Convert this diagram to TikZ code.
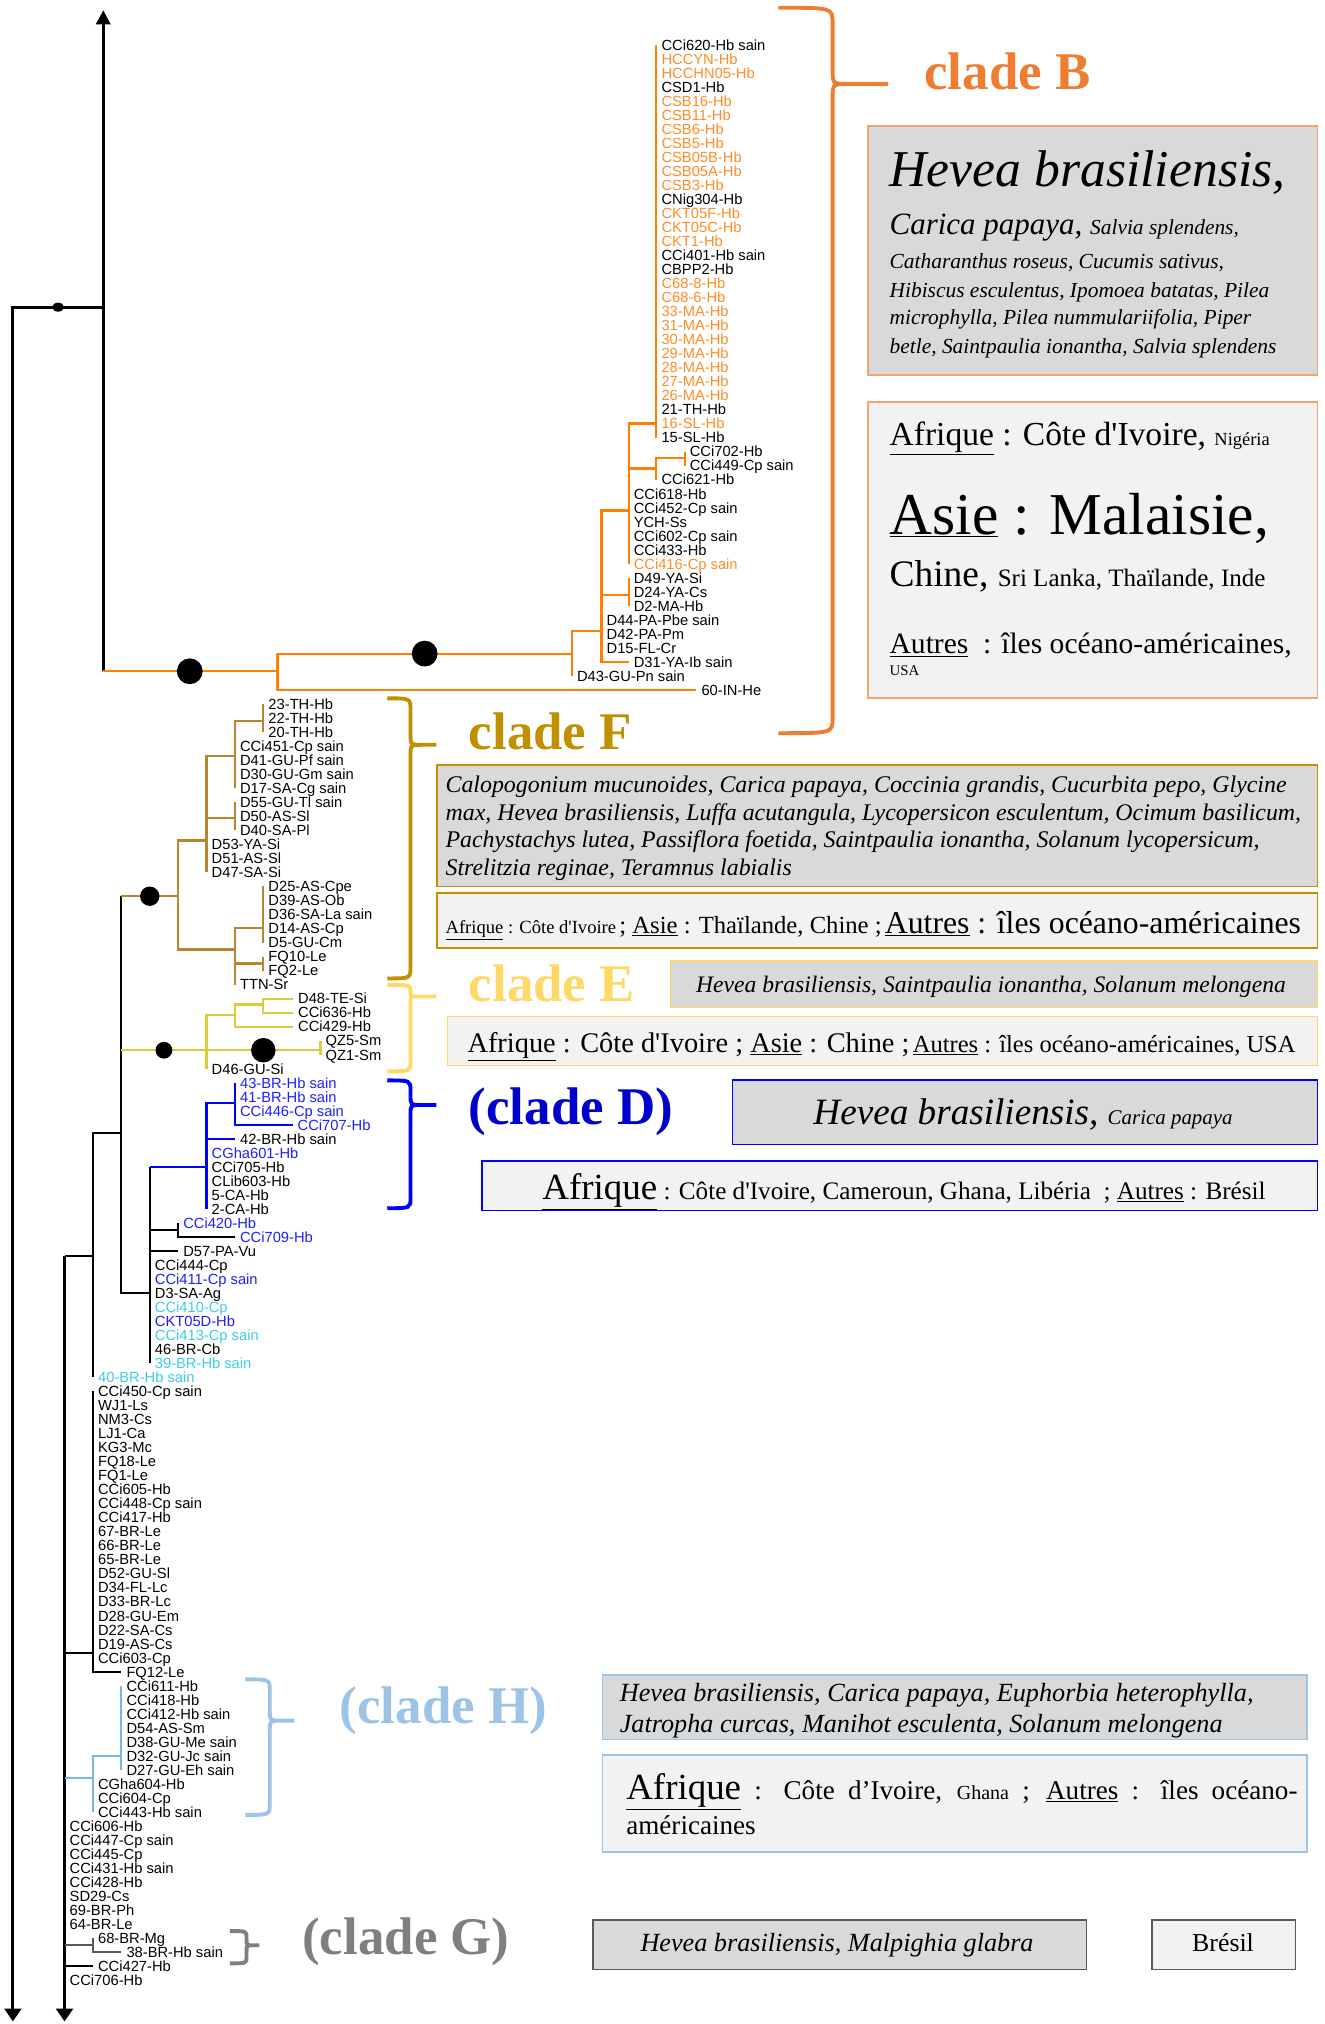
\documentclass[tikz,border=0pt]{standalone}
\usepackage{fontspec}
\setmainfont{Liberation Serif}
\setsansfont{Liberation Sans}
\usetikzlibrary{arrows.meta}
\definecolor{cladeB}{RGB}{237,125,49}
\definecolor{orgline}{RGB}{255,128,0}
\definecolor{orgtxt}{RGB}{255,140,40}
\definecolor{orgborder}{RGB}{244,164,110}
\definecolor{brnline}{RGB}{184,134,46}
\definecolor{cladeF}{RGB}{191,144,0}
\definecolor{yelline}{RGB}{220,204,58}
\definecolor{cladeE}{RGB}{255,217,102}
\definecolor{bluline}{RGB}{0,0,255}
\definecolor{blutxt}{RGB}{30,30,255}
\definecolor{cyantxt}{RGB}{60,205,235}
\definecolor{cladeD}{RGB}{0,0,204}
\definecolor{hline}{RGB}{120,180,240}
\definecolor{cladeH}{RGB}{157,195,230}
\definecolor{gline}{RGB}{90,90,80}
\definecolor{cladeG}{RGB}{127,127,127}
\definecolor{spfill}{RGB}{217,217,217}
\definecolor{geofill}{RGB}{242,242,242}

\begin{document}
\begin{tikzpicture}[x=1pt,y=-1pt,
    leaf/.style={anchor=west,inner xsep=3.8pt,inner ysep=0pt,text height=8.2pt,text depth=0pt,font=\sffamily\fontsize{11.4}{11}\selectfont},
    br/.style={line width=1.7pt},
    trunk/.style={line width=2.4pt},
    brace/.style={line width=3pt},
    clade/.style={anchor=base west,inner sep=0pt,font=\bfseries\fontsize{41}{41}\selectfont},
    spbox/.style={draw,fill=spfill,line width=1.2pt,anchor=north west,inner sep=0pt},
    geobox/.style={draw,fill=geofill,line width=1.2pt,anchor=north west,inner sep=0pt},
    txt/.style={anchor=base west,inner sep=0pt}]
\useasboundingbox (0,0) rectangle (1026,1568);

% tree, one row per leaf
\begin{scope}[y=-10.865pt,shift={(0pt,-34.8pt)}]
  % leaves of clade B
  \foreach \t/\cl [count=\i from 0] in {CCi620-Hb sain/black,HCCYN-Hb/orgtxt,HCCHN05-Hb/orgtxt,CSD1-Hb/black,CSB16-Hb/orgtxt,CSB11-Hb/orgtxt,CSB6-Hb/orgtxt,CSB5-Hb/orgtxt,CSB05B-Hb/orgtxt,CSB05A-Hb/orgtxt,CSB3-Hb/orgtxt,CNig304-Hb/black,CKT05F-Hb/orgtxt,CKT05C-Hb/orgtxt,CKT1-Hb/orgtxt,CCi401-Hb sain/black,CBPP2-Hb/black,C68-8-Hb/orgtxt,C68-6-Hb/orgtxt,33-MA-Hb/orgtxt,31-MA-Hb/orgtxt,30-MA-Hb/orgtxt,29-MA-Hb/orgtxt,28-MA-Hb/orgtxt,27-MA-Hb/orgtxt,26-MA-Hb/orgtxt,21-TH-Hb/black,16-SL-Hb/orgtxt,15-SL-Hb/black}
    \node[leaf,text=\cl] (l\i) at (508.5,\i) {\t};
  \foreach \t [count=\i from 29] in {CCi702-Hb,CCi449-Cp sain}
    \node[leaf] (l\i) at (530.4,\i) {\t};
  \node[leaf] (l31) at (508.5,31) {CCi621-Hb};
  \foreach \t/\cl [count=\i from 32] in {CCi618-Hb/black,CCi452-Cp sain/black,YCH-Ss/black,CCi602-Cp sain/black,CCi433-Hb/black,CCi416-Cp sain/orgtxt,D49-YA-Si/black,D24-YA-Cs/black,D2-MA-Hb/black}
    \node[leaf,text=\cl] (l\i) at (487,\i) {\t};
  \foreach \t [count=\i from 41] in {D44-PA-Pbe sain,D42-PA-Pm,D15-FL-Cr}
    \node[leaf] (l\i) at (466,\i) {\t};
  \node[leaf] (l44) at (487,44) {D31-YA-Ib sain};
  \node[leaf] (l45) at (443,45) {D43-GU-Pn sain};
  \node[leaf] (l46) at (539.5,46) {60-IN-He};

  % leaves of clade F
  \foreach \t [count=\i from 47] in {23-TH-Hb,22-TH-Hb,20-TH-Hb}
    \node[leaf] (l\i) at (204,\i) {\t};
  \foreach \t [count=\i from 50] in {CCi451-Cp sain,D41-GU-Pf sain,D30-GU-Gm sain,D17-SA-Cg sain,D55-GU-Tl sain,D50-AS-Sl,D40-SA-Pl}
    \node[leaf] (l\i) at (182,\i) {\t};
  \foreach \t [count=\i from 57] in {D53-YA-Si,D51-AS-Sl,D47-SA-Si}
    \node[leaf] (l\i) at (160,\i) {\t};
  \foreach \t [count=\i from 60] in {D25-AS-Cpe,D39-AS-Ob,D36-SA-La sain,D14-AS-Cp,D5-GU-Cm,FQ10-Le,FQ2-Le}
    \node[leaf] (l\i) at (204,\i) {\t};
  \node[leaf] (l67) at (182,67) {TTN-Sr};

  % leaves of clade E
  \foreach \t [count=\i from 68] in {D48-TE-Si,CCi636-Hb,CCi429-Hb}
    \node[leaf] (l\i) at (227,\i) {\t};
  \foreach \t [count=\i from 71] in {QZ5-Sm,QZ1-Sm}
    \node[leaf] (l\i) at (248.3,\i) {\t};
  \node[leaf] (l73) at (160,73) {D46-GU-Si};

  % leaves of clade D
  \foreach \t [count=\i from 74] in {43-BR-Hb sain,41-BR-Hb sain,CCi446-Cp sain}
    \node[leaf,text=blutxt] (l\i) at (182,\i) {\t};
  \node[leaf,text=blutxt] (l77) at (226.6,77) {CCi707-Hb};
  \node[leaf] (l78) at (182,78) {42-BR-Hb sain};
  \foreach \t/\cl [count=\i from 79] in {CGha601-Hb/blutxt,CCi705-Hb/black,CLib603-Hb/black,5-CA-Hb/black,2-CA-Hb/black}
    \node[leaf,text=\cl] (l\i) at (160,\i) {\t};

  % the rest
  \node[leaf,text=blutxt] (l84) at (138,84) {CCi420-Hb};
  \node[leaf,text=blutxt] (l85) at (182,85) {CCi709-Hb};
  \node[leaf] (l86) at (138,86) {D57-PA-Vu};
  \foreach \t/\cl [count=\i from 87] in {CCi444-Cp/black,CCi411-Cp sain/blutxt,D3-SA-Ag/black,CCi410-Cp/cyantxt,CKT05D-Hb/blutxt,CCi413-Cp sain/cyantxt,46-BR-Cb/black,39-BR-Hb sain/cyantxt}
    \node[leaf,text=\cl] (l\i) at (116,\i) {\t};
  \node[leaf,text=cyantxt] (l95) at (72,95) {40-BR-Hb sain};
  \foreach \t [count=\i from 96] in {CCi450-Cp sain,WJ1-Ls,NM3-Cs,LJ1-Ca,KG3-Mc,FQ18-Le,FQ1-Le,CCi605-Hb,CCi448-Cp sain,CCi417-Hb,67-BR-Le,66-BR-Le,65-BR-Le,D52-GU-Sl,D34-FL-Lc,D33-BR-Lc,D28-GU-Em,D22-SA-Cs,D19-AS-Cs,CCi603-Cp}
    \node[leaf] (l\i) at (72,\i) {\t};
  \node[leaf] (l116) at (94,116) {FQ12-Le};
  \foreach \t [count=\i from 117] in {CCi611-Hb,CCi418-Hb,CCi412-Hb sain,D54-AS-Sm,D38-GU-Me sain,D32-GU-Jc sain,D27-GU-Eh sain}
    \node[leaf] (l\i) at (94,\i) {\t};
  \foreach \t [count=\i from 124] in {CGha604-Hb,CCi604-Cp,CCi443-Hb sain}
    \node[leaf] (l\i) at (72,\i) {\t};
  \foreach \t [count=\i from 127] in {CCi606-Hb,CCi447-Cp sain,CCi445-Cp,CCi431-Hb sain,CCi428-Hb,SD29-Cs,69-BR-Ph,64-BR-Le}
    \node[leaf] (l\i) at (50,\i) {\t};
  \node[leaf] (l135) at (72,135) {68-BR-Mg};
  \node[leaf] (l136) at (94,136) {38-BR-Hb sain};
  \node[leaf] (l137) at (72,137) {CCi427-Hb};
  \node[leaf] (l138) at (50,138) {CCi706-Hb};

  % inner nodes
  \coordinate (k0) at (10,18.7);
  \coordinate (k1) at (80,18.7);
  \coordinate (kTop) at (80,-2.47);
  \coordinate (kEnd0) at (10,140.93);
  \coordinate (k2) at (50,86.33);
  \coordinate (kEnd1) at (50,140.93);
  \coordinate (k3) at (72,86.33);
  \coordinate (k4) at (94,77.57);
  \coordinate (k5) at (116,89);
  \coordinate (k6) at (138,84.47);
  \coordinate (k7) at (72,114.66);
  \coordinate (oRoot) at (80,44.66);
  \coordinate (o1) at (215,44.66);
  \coordinate (o2) at (443,43.4);
  \coordinate (o3) at (466,41.77);
  \coordinate (o4) at (487,33.19);
  \coordinate (o5) at (508.5,27);
  \coordinate (o6) at (508.5,30.2);
  \coordinate (o7) at (530.4,29.46);
  \coordinate (o8) at (487,39.2);
  \coordinate (f1) at (138,60.7);
  \coordinate (f2) at (160,56.73);
  \coordinate (f3) at (182,50.72);
  \coordinate (f4) at (204,48.23);
  \coordinate (f5) at (182,55.12);
  \coordinate (f6) at (182,64.5);
  \coordinate (f7) at (204,62.96);
  \coordinate (f8) at (204,65.5);
  \coordinate (e1) at (160,71.68);
  \coordinate (e2) at (182,69.14);
  \coordinate (e3) at (204,68.42);
  \coordinate (e4) at (248.3,71.68);
  \coordinate (d1) at (160,80);
  \coordinate (d2) at (182,75.43);
  \coordinate (h1) at (72,123.6);
  \coordinate (h2) at (94,122);
  \coordinate (g1) at (72,135.5);

  % black backbone
  \draw[trunk,-{Triangle[length=11pt,width=11pt]}] (oRoot) -- (kTop);
  \draw[trunk,-{Triangle[length=10pt,width=13pt]}] (k1) -- (k0) -- (kEnd0);
  \draw[trunk,-{Triangle[length=10pt,width=13pt]}] (k2) -- (kEnd1);
  \fill (45,18.7) ellipse (4.5pt and 3.5pt);
  \draw[br] (k2) -- (k3) |- (k4) (k3) |- (l95.west)
    (k4) |- (k5) (k4) -- (k4 |- f1)
    (k5) |- (k6) (k5) |- (l86.west) (k5) |- (l94.west) (k5) -- (k5 |- d1)
    (k6) |- (l84.west) (k6) |- (l85.west)
    (k2 |- k7) -- (k7) |- (l96.west) (k7) |- (l116.west)
    (k2 |- l137.west) -- (l137.west);

  % clade B
  \draw[br,orgline] (oRoot) -- (o1) |- (o2) (o1) |- (l46.west)
    (o2) |- (o3) (o2) |- (l45.west)
    (o3) |- (o4) (o3) |- (o8) (o3) |- (l41.west) (o3) |- (l44.west)
    (o4) |- (o5) (o4) |- (o6) (o4) |- (l32.west) (o4) |- (l37.west)
    (o5) |- (l0.west) (o5) |- (l28.west)
    (o6) |- (o7) (o6) |- (l31.west)
    (o7) |- (l29.west) (o7) |- (l30.west)
    (o8) |- (l38.west) (o8) |- (l40.west);
  \fill (147,44.66) circle (10pt);
  \fill (329,43.4) circle (10pt);

  % clade F
  \draw[br,brnline] (k4 |- f1) -- (f1) |- (f2) (f1) |- (f6)
    (f2) |- (f3) (f2) |- (f5) (f2) |- (l59.west)
    (f3) |- (f4) (f3) |- (l50.west) (f3) |- (l53.west)
    (f4) |- (l47.west) (f4) |- (l49.west)
    (f5) |- (l54.west) (f5) |- (l56.west)
    (f6) |- (f7) (f6) |- (f8) (f6) |- (l67.west)
    (f7) |- (l60.west) (f7) |- (l64.west)
    (f8) |- (l65.west) (f8) |- (l66.west);
  \fill (116,60.7) circle (7.5pt);

  % clade E
  \draw[br,yelline] (k4 |- e1) -- (e1) |- (e2) (e1) |- (l73.west) (e1) -- (e4)
    (e2) |- (e3) (e2) |- (l70.west)
    (e3) |- (l68.west) (e3) |- (l69.west)
    (e4) |- (l71.west) (e4) |- (l72.west);
  \fill (127,71.68) circle (6.5pt);
  \fill (204,71.68) circle (9.5pt);

  % clade D
  \draw[br,bluline] (k5 |- d1) -- (d1) |- (d2) (d1) |- (l78.west) (d1) |- (l83.west)
    (d2) |- (l74.west) (d2) |- (l77.west);

  % clade H
  \draw[br,hline] (k2 |- h1) -- (h1) |- (h2) (h1) |- (l126.west)
    (h2) |- (l117.west) (h2) |- (l123.west);

  % clade G
  \draw[br,gline] (k2 |- g1) -- (g1) |- (l135.west) (g1) |- (l136.west);
\end{scope}

% braces
\draw[brace,cladeB] (603,6) .. controls (645,6) .. (645,18) -- (645,53) .. controls (645,65) .. (657,65) -- (688,65)
  (657,65) .. controls (645,65) .. (645,77) -- (645,556) .. controls (645,568) .. (603,568);
\draw[brace,cladeF] (300,541) .. controls (318,541) .. (318,550) -- (318,568) .. controls (318,577) .. (327,577) -- (338,577)
  (327,577) .. controls (318,577) .. (318,586) -- (318,749) .. controls (318,758) .. (300,758);
\draw[brace,cladeE] (300,763) .. controls (318,763) .. (318,768) .. controls (318,772) .. (323,772) -- (338,772)
  (323,772) .. controls (318,772) .. (318,778) -- (318,822) .. controls (318,830) .. (300,830);
\draw[brace,bluline] (300,837) .. controls (318,837) .. (318,845) -- (318,848) .. controls (318,856) .. (326,856) -- (338,856)
  (326,856) .. controls (318,856) .. (318,864) -- (318,928) .. controls (318,936) .. (300,936);
\draw[brace,cladeH] (190,1301) .. controls (209,1301) .. (209,1310) -- (209,1324) .. controls (209,1333) .. (218,1333) -- (228,1333)
  (218,1333) .. controls (209,1333) .. (209,1342) -- (209,1397) .. controls (209,1406) .. (190,1406);
\draw[brace,cladeG] (178,1496) .. controls (191,1496) .. (191,1501) -- (191,1502) .. controls (191,1507) .. (196,1507) -- (201,1507)
  (196,1507) .. controls (191,1507) .. (191,1512) -- (191,1516) .. controls (191,1521) .. (178,1521);

% clade names
\node[clade,text=cladeB] (cB) at (716,69) {clade B};
\node[clade,text=cladeF] (cF) at (363,581) {clade F};
\node[clade,text=cladeE] (cE) at (363,776) {clade E};
\node[clade,text=cladeD] (cD) at (363,871) {(clade D)};
\node[clade,text=cladeH] (cH) at (263,1335) {(clade H)};
\node[clade,text=cladeG] (cG) at (234,1514) {(clade G)};

% clade B boxes
\node[spbox,draw=orgborder,minimum width=348pt,minimum height=193pt] (spB) at (672,97) {};
\node[txt,font=\itshape\fontsize{40}{40}\selectfont] (spB1) at (689,144.4) {Hevea brasiliensis,};
\node[txt,font=\itshape\fontsize{24}{24}\selectfont] (spB2) at (689,181.6) {Carica papaya, {\fontsize{16.6}{16}\selectfont Salvia splendens,}};
\foreach \t/\y [count=\i from 3] in {{Catharanthus roseus, Cucumis sativus,}/207.8,{Hibiscus esculentus, Ipomoea batatas, Pilea}/230.1,{microphylla, Pilea nummulariifolia, Piper}/251.5,{betle, Saintpaulia ionantha, Salvia splendens}/273.5}
  \node[txt,font=\itshape\fontsize{16.6}{16}\selectfont] (spB\i) at (689,\y) {\t};
\node[geobox,draw=orgborder,minimum width=348pt,minimum height=229pt] (geB) at (672,311) {};
\node[txt,font=\fontsize{26}{26}\selectfont] (geB1) at (689,345.3) {\underline{Afrique} : Côte d\textquotesingle Ivoire, {\fontsize{14.3}{14}\selectfont Nigéria}};
\node[txt,font=\fontsize{46}{46}\selectfont] (geB2) at (689,413.8) {\underline{Asie} : Malaisie,};
\node[txt,font=\fontsize{29}{29}\selectfont] (geB3) at (689,454.3) {Chine, {\fontsize{19.4}{19}\selectfont Sri Lanka, Thaïlande, Inde}};
\node[txt,font=\fontsize{22.9}{23}\selectfont] (geB4) at (689,506.6) {\underline{Autres}\ \ : îles océano-américaines,};
\node[txt,font=\fontsize{11.5}{12}\selectfont] (geB5) at (689,523.2) {USA};

% clade F boxes
\node[spbox,draw=cladeF,minimum width=682pt,minimum height=94pt] (spF) at (338,592) {};
\foreach \t/\y [count=\i] in {{Calopogonium mucunoides, Carica papaya, Coccinia grandis, Cucurbita pepo, Glycine}/614,{max, Hevea brasiliensis, Luffa acutangula, Lycopersicon esculentum, Ocimum basilicum,}/635.4,{Pachystachys lutea, Passiflora foetida, Saintpaulia ionantha, Solanum lycopersicum,}/656.8,{Strelitzia reginae, Teramnus labialis}/678.2}
  \node[txt,font=\itshape\fontsize{18.5}{18}\selectfont] (spF\i) at (345,\y) {\t};
\node[geobox,draw=cladeF,minimum width=682pt,minimum height=43pt] (geF) at (338,691) {};
\node[txt] (geF1) at (345,723) {{\fontsize{14.4}{14}\selectfont\underline{Afrique} : Côte d\textquotesingle Ivoire} {\fontsize{19.1}{19}\selectfont ; \underline{Asie} : Thaïlande, Chine ;} {\fontsize{24.6}{25}\selectfont\underline{Autres} : îles océano-américaines}};

% clade E boxes
\node[spbox,draw=cladeE,minimum width=501pt,minimum height=36pt] (spE) at (519,744) {};
\node[txt,font=\itshape\fontsize{18.3}{18}\selectfont] (spE1) at (539,769) {Hevea brasiliensis, Saintpaulia ionantha, Solanum melongena};
\node[geobox,draw=cladeE,minimum width=674pt,minimum height=38pt] (geE) at (346,787) {};
\node[txt] (geE1) at (362,815) {{\fontsize{22}{22}\selectfont\underline{Afrique} : Côte d\textquotesingle Ivoire ; \underline{Asie} : Chine ;} {\fontsize{19}{19}\selectfont\underline{Autres} : îles océano-américaines, USA}};

% clade D boxes
\node[spbox,draw=bluline,minimum width=453pt,minimum height=50pt] (spD) at (567,836) {};
\node[txt,font=\itshape\fontsize{28.8}{29}\selectfont] (spD1) at (630,871) {Hevea brasiliensis, {\fontsize{16.2}{16}\selectfont Carica papaya}};
\node[geobox,draw=bluline,minimum width=647pt,minimum height=38pt] (geD) at (373,899) {};
\node[txt,font=\fontsize{19.5}{19}\selectfont] (geD1) at (420,929) {{\fontsize{28.6}{28}\selectfont\underline{Afrique}} : Côte d\textquotesingle Ivoire, Cameroun, Ghana, Libéria ~; \underline{Autres} : Brésil};

% clade H boxes
\node[spbox,draw=cladeH,minimum width=546pt,minimum height=50pt] (spH) at (466,1297) {};
\node[txt,font=\itshape\fontsize{20.3}{20}\selectfont] (spH1) at (480,1318) {Hevea brasiliensis, Carica papaya, Euphorbia heterophylla,};
\node[txt,font=\itshape\fontsize{20.3}{20}\selectfont] (spH2) at (480,1342) {Jatropha curcas, Manihot esculenta, Solanum melongena};
\node[geobox,draw=cladeH,minimum width=546pt,minimum height=75pt] (geH) at (466,1359) {};
\node[txt] (geH1) at (485,1394) {\parbox[t]{520pt}{\fontsize{21}{27.5}\selectfont {\fontsize{28.6}{27.5}\selectfont\underline{Afrique}} : Côte d’Ivoire, {\fontsize{15.5}{27.5}\selectfont Ghana} ; \underline{Autres} : îles océano-\linebreak américaines}};

% clade G boxes
\node[spbox,draw=gline,minimum width=382pt,minimum height=38pt] (spG) at (459,1487) {};
\node[txt,font=\itshape\fontsize{20.3}{20}\selectfont] (spG1) at (496,1512) {Hevea brasiliensis, Malpighia glabra};
\node[geobox,draw=gline,minimum width=111pt,minimum height=38pt] (geG) at (892,1487) {};
\node[txt,anchor=base,font=\fontsize{20}{20}\selectfont] (geG1) at (947.5,1512) {Brésil};
\end{tikzpicture}
\end{document}
